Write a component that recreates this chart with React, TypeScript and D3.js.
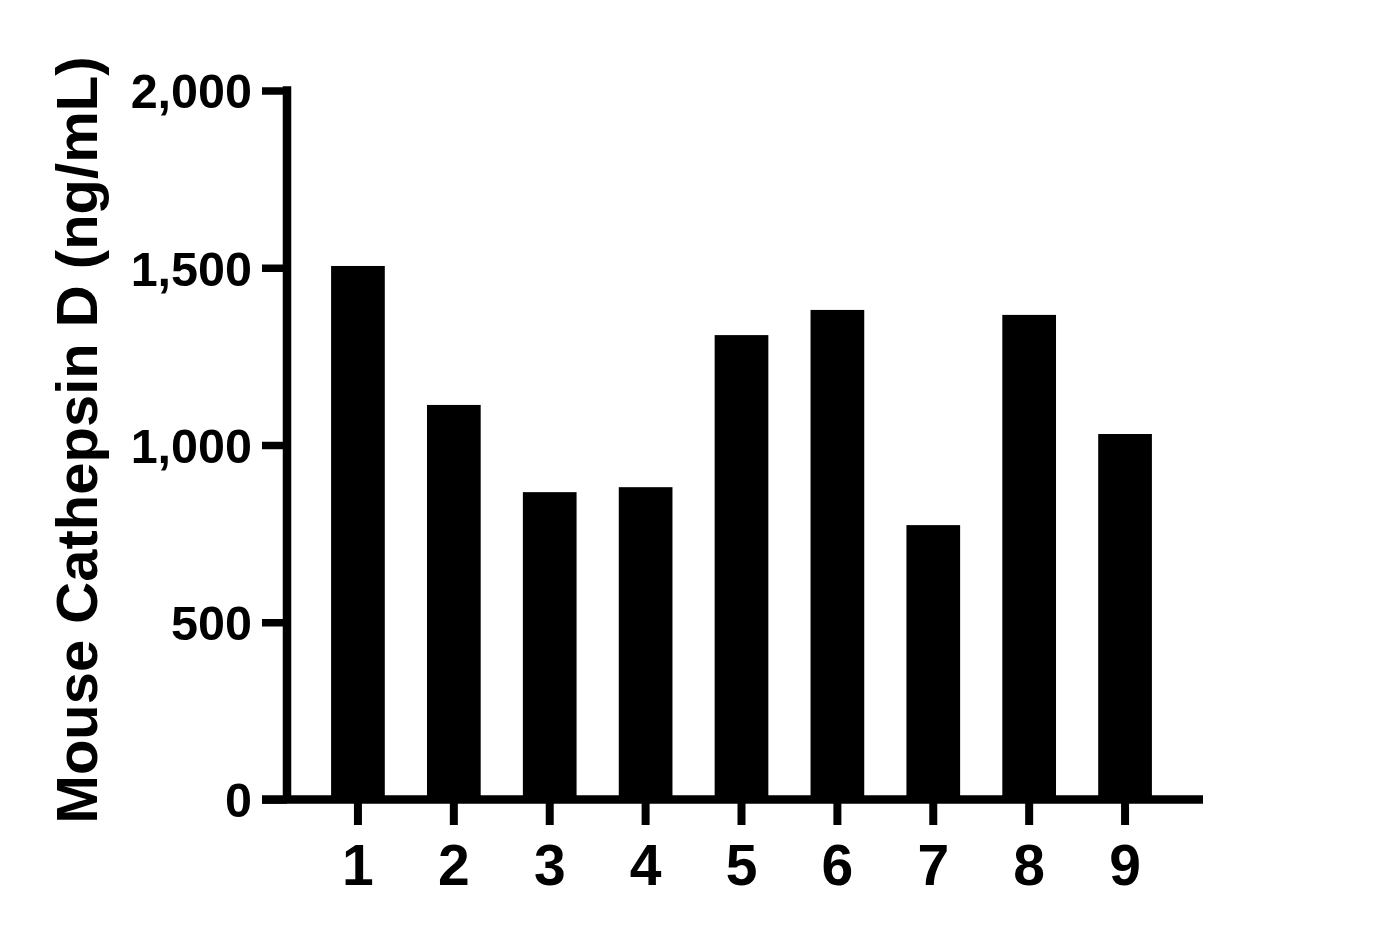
import React, { useEffect, useRef } from "react";
import * as d3 from "d3";

const categories = ["1", "2", "3", "4", "5", "6", "7", "8", "9"];
const values = [1505, 1113, 867, 881, 1310, 1381, 774, 1367, 1031];
const yTicks = [0, 500, 1000, 1500, 2000];
const yLabel = "Mouse Cathepsin D (ng/mL)";

const WIDTH = 1379;
const HEIGHT = 939;
const FONT = "'Liberation Sans', Arial, Helvetica, sans-serif";

export default function App() {
  const svgRef = useRef<SVGSVGElement>(null);

  useEffect(() => {
    if (!svgRef.current) return;
    const svg = d3.select(svgRef.current);
    svg.selectAll("*").remove();

    const axisX = 287; // y axis line position
    const axisY = 799.5; // x axis line position
    const lineW = 8.5;

    // Scales
    const x = d3
      .scaleBand<string>()
      .domain(categories)
      .range([310, 1173])
      .paddingInner(0.44)
      .paddingOuter(0.22);

    const y = d3.scaleLinear().domain([0, 2000]).range([axisY, 90.5]);

    // Bars
    svg
      .append("g")
      .selectAll("rect")
      .data(values)
      .join("rect")
      .attr("x", (_, i) => x(categories[i]) as number)
      .attr("y", (d) => y(d))
      .attr("width", x.bandwidth())
      .attr("height", (d) => axisY - y(d))
      .attr("fill", "#000");

    // Y axis
    const yAxis = svg
      .append("g")
      .attr("transform", `translate(${axisX},0)`)
      .call(
        d3
          .axisLeft(y)
          .tickValues(yTicks)
          .tickSize(25)
          .tickSizeOuter(0)
          .tickPadding(10)
          .tickFormat((d) => d3.format(",")(d as number))
      );
    yAxis.select(".domain").remove();
    yAxis
      .append("line")
      .attr("x1", 0)
      .attr("x2", 0)
      .attr("y1", y(2000) - lineW / 2)
      .attr("y2", axisY)
      .attr("stroke", "#000")
      .attr("stroke-width", lineW);
    yAxis.selectAll(".tick line").attr("stroke", "#000").attr("stroke-width", 7.5);
    yAxis
      .selectAll(".tick text")
      .attr("fill", "#000")
      .attr("dy", "0.36em")
      .style("font-family", FONT)
      .style("font-weight", "bold")
      .style("font-size", "48.5px");

    // X axis
    const xAxis = svg
      .append("g")
      .attr("transform", `translate(0,${axisY})`)
      .call(d3.axisBottom(x).tickSize(25.5).tickSizeOuter(0).tickPadding(0));
    xAxis.select(".domain").remove();
    xAxis
      .append("line")
      .attr("x1", axisX - 25)
      .attr("x2", 1203)
      .attr("y1", 0)
      .attr("y2", 0)
      .attr("stroke", "#000")
      .attr("stroke-width", lineW);
    xAxis.selectAll(".tick line").attr("stroke", "#000").attr("stroke-width", 8);
    xAxis
      .selectAll(".tick text")
      .attr("fill", "#000")
      .attr("y", 85.5)
      .attr("dy", 0)
      .style("font-family", FONT)
      .style("font-weight", "bold")
      .style("font-size", "57px");

    // Y axis title
    svg
      .append("text")
      .attr("transform", `translate(97,440) rotate(-90)`)
      .attr("text-anchor", "middle")
      .attr("fill", "#000")
      .style("font-family", FONT)
      .style("font-weight", "bold")
      .style("font-size", "58px")
      .text(yLabel);
  }, []);

  return (
    <div style={{ position: "fixed", left: 0, top: 0, background: "#fff" }}>
      <svg ref={svgRef} width={WIDTH} height={HEIGHT} style={{ display: "block" }} />
    </div>
  );
}
